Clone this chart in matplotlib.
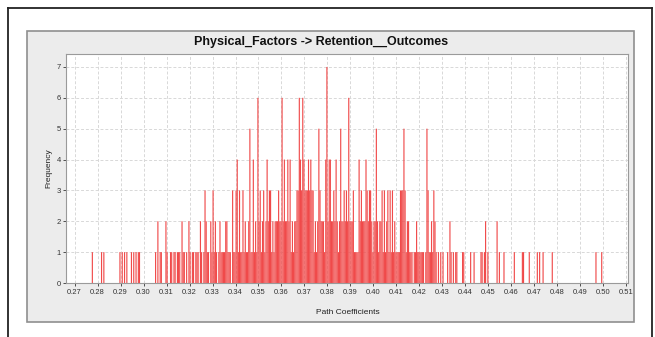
import numpy as np
import matplotlib.pyplot as plt
from matplotlib.patches import Rectangle
from matplotlib.lines import Line2D

plt.rcParams['font.family'] = ['Liberation Sans', 'DejaVu Sans']

title = "Physical_Factors -> Retention__Outcomes"
x_label = "Path Coefficients"
y_label = "Frequency"

bin_start = 0.27
bin_width = 0.0005

# bootstrap frequencies, one row per 0.01 step (20 bins each), 0.27 .. 0.51
freq_rows = [
    [0,0,0,0,0,0,0,0,0,0,0,0,0,0,0,1,0,0,0,0],   # 0.27
    [0,0,0,1,0,1,0,0,0,0,0,0,0,0,0,0,0,0,0,1],   # 0.28
    [0,1,0,1,0,1,0,0,0,1,0,1,0,1,0,1,1,0,0,0],   # 0.29
    [0,0,0,0,0,0,0,0,0,0,1,0,2,0,1,1,0,0,0,2],   # 0.30
    [1,0,0,1,1,0,1,1,0,1,1,1,0,2,1,1,0,1,0,2],   # 0.31
    [1,0,1,1,0,1,1,1,0,2,1,0,1,3,2,1,1,0,2,1],   # 0.32
    [3,1,2,1,0,1,2,1,1,1,1,2,2,1,1,1,0,3,1,1],   # 0.33
    [3,4,1,3,1,1,3,1,2,1,1,2,5,1,1,4,1,2,1,6],   # 0.34
    [2,3,1,2,3,1,2,4,2,3,3,1,2,1,2,2,2,3,2,2],   # 0.35
    [6,2,4,2,2,4,2,4,1,2,1,2,2,3,3,6,4,3,6,4],   # 0.36
    [3,3,3,4,3,4,3,3,1,2,1,2,5,3,2,2,2,1,4,7],   # 0.37
    [2,4,4,2,2,3,2,4,2,1,2,5,2,2,3,2,3,2,6,2],   # 0.38
    [2,2,3,1,1,1,1,4,2,3,2,2,2,4,3,2,3,3,2,1],   # 0.39
    [2,2,5,2,1,2,2,3,1,3,1,2,3,1,3,1,3,1,2,1],   # 0.40
    [1,1,1,3,3,3,5,3,1,2,2,1,1,1,0,1,1,2,1,1],   # 0.41
    [1,1,1,1,0,1,5,3,1,1,2,1,3,2,1,0,1,0,1,0],   # 0.42
    [1,0,0,0,1,0,2,1,0,1,0,1,1,0,0,0,0,1,1,0],   # 0.43
    [0,0,0,0,1,0,0,1,0,0,0,0,0,1,1,0,1,2,0,1],   # 0.44
    [0,0,0,0,0,0,0,2,0,1,0,0,0,1,0,0,0,0,0,0],   # 0.45
    [0,0,1,0,0,0,0,0,0,1,1,0,0,0,0,1,0,0,0,0],   # 0.46
    [0,0,1,0,1,0,0,1,0,0,0,0,0,0,0,1,0,0,0,0],   # 0.47
    [0,0,0,0,0,0,0,0,0,0,0,0,0,0,0,0,0,0,0,0],   # 0.48
    [0,0,0,0,0,0,0,0,0,0,0,0,0,1,0,0,0,0,1,0],   # 0.49
    [0,0,0,0,0,0,0,0,0,0,0,0,0,0,0,0,0,0,0,0],   # 0.50
]

x_ticks = [0.27, 0.28, 0.29, 0.30, 0.31, 0.32, 0.33, 0.34, 0.35, 0.36, 0.37, 0.38,
           0.39, 0.40, 0.41, 0.42, 0.43, 0.44, 0.45, 0.46, 0.47, 0.48, 0.49, 0.50, 0.51]
y_ticks = [0, 1, 2, 3, 4, 5, 6, 7]

counts = np.concatenate([np.array(r) for r in freq_rows])
lefts = bin_start + bin_width * np.arange(len(counts))
keep = counts > 0

fig = plt.figure(figsize=(6.55, 3.37), dpi=100)
fig.patch.set_facecolor('white')

# grey panel behind the chart
fig.add_artist(Rectangle((0.0412, 0.0445), 0.927, 0.8635, transform=fig.transFigure,
                         facecolor='#ececec', edgecolor='#8f8f8f', linewidth=1.2, zorder=0))
# outer black frame (open at the bottom)
for xs, ys in [([0.0122, 0.9954], [0.976, 0.976]),
               ([0.0122, 0.0122], [0.976, 0.0]),
               ([0.9954, 0.9954], [0.976, 0.0])]:
    fig.add_artist(Line2D(xs, ys, transform=fig.transFigure, color='#222222', linewidth=1.3))

ax = fig.add_axes([0.1015, 0.1602, 0.8577, 0.6796])
ax.set_facecolor('white')
bars = ax.bar(lefts[keep], counts[keep], width=bin_width, align='edge',
              color='#f04a4a', edgecolor='none', linewidth=0, zorder=2)
for b in bars:
    b.set_snap(False)

ax.set_xlim(0.2665, 0.5108)
ax.set_ylim(0, 7.42)
ax.set_xticks(x_ticks)
ax.set_xticklabels(['%.2f' % t for t in x_ticks])
ax.set_yticks(y_ticks)
ax.grid(True, color='#d8d8d8', linestyle=(0, (3, 2)), linewidth=0.7)
ax.set_axisbelow(True)
ax.tick_params(labelsize=5.5, colors='#333333', length=2, width=0.6, pad=2)
for s in ax.spines.values():
    s.set_color('#9a9a9a')
    s.set_linewidth(0.8)

ax.set_xlabel(x_label, fontsize=6, color='#222222')
ax.xaxis.set_label_coords(0.5, -0.115)
ax.set_ylabel(y_label, fontsize=6, color='#222222')
ax.yaxis.set_label_coords(-0.026, 0.5)

fig.text(0.49, 0.874, title, ha='center', va='center', fontsize=9,
         fontweight='bold', color='#111111')

fig.savefig('out.png', dpi=100)
